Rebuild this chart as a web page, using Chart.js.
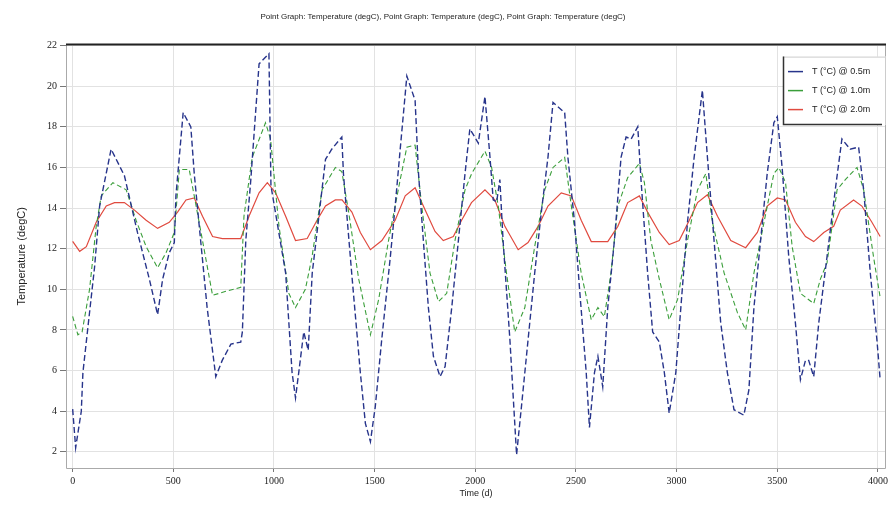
<!DOCTYPE html>
<html><head><meta charset="utf-8">
<script src="https://cdn.jsdelivr.net/npm/chart.js@4.4.1/dist/chart.umd.min.js"></script>
<style>html,body{margin:0;padding:0;background:#fff;}canvas{display:block}</style>
</head><body>
<canvas id="c" width="896" height="507"></canvas>
<script>
const titleText = "Point Graph: Temperature (degC), Point Graph: Temperature (degC), Point Graph: Temperature (degC)";
const xTitle = "Time (d)";
const yTitle = "Temperature (degC)";
const seriesLabels = ["T (°C) @ 0.5m", "T (°C) @ 1.0m", "T (°C) @ 2.0m"];
const xTicks = [0, 500, 1000, 1500, 2000, 2500, 3000, 3500, 4000];
const yTicks = [2, 4, 6, 8, 10, 12, 14, 16, 18, 20, 22];

const time05 = [0,15,43,51,109,134,191,257,322,381,422,447,480,505,513,549,587,604,629,668,711,743,786,835,843,860,885,926,975,985,1058,1090,1107,1123,1148,1170,1190,1208,1256,1287,1337,1345,1386,1429,1454,1479,1503,1535,1578,1602,1627,1660,1701,1718,1742,1767,1792,1825,1850,1883,1916,1949,1973,2015,2048,2073,2089,2106,2122,2138,2172,2196,2205,2229,2262,2295,2328,2361,2386,2444,2460,2493,2518,2551,2567,2592,2609,2633,2658,2691,2724,2749,2774,2807,2823,2856,2881,2914,2939,2963,2996,3021,3054,3087,3128,3153,3186,3219,3252,3285,3334,3359,3384,3417,3450,3483,3500,3524,3557,3590,3615,3640,3656,3681,3706,3747,3788,3821,3862,3904,3929,3962,3995,4011];
const temp05 = [4.1,2.2,4.0,5.9,11.1,14.1,16.9,15.6,12.8,10.5,8.75,10.5,11.8,12.3,14.6,18.7,18.0,15.7,13.1,9.1,5.7,6.5,7.3,7.4,7.9,12.4,15.4,21.1,21.6,15.1,10.8,5.9,4.65,5.9,7.9,7.0,10.8,12.3,16.4,16.9,17.5,15.7,10.8,5.9,3.4,2.5,4.2,7.5,11.6,14.1,16.9,20.5,19.3,15.7,12.4,9.1,6.7,5.7,6.2,9.1,12.4,15.7,17.9,17.2,19.5,16.5,14.4,14.3,15.4,12.4,7.5,3.4,1.85,4.2,7.5,10.8,13.8,16.5,19.2,18.7,16.5,13.3,10.0,5.9,3.2,5.9,6.7,5.2,9.1,12.4,16.5,17.5,17.4,18.0,15.4,10.8,7.9,7.4,5.9,3.9,5.9,9.1,13.3,16.5,19.8,16.5,12.4,8.35,5.9,4.07,3.8,5.05,9.1,12.4,15.7,18.2,18.5,16.0,11.6,8.35,5.55,6.5,6.5,5.7,8.35,11.6,14.9,17.4,16.9,17.0,14.9,10.8,7.5,5.55];

const time10 = [0,26,47,84,117,142,200,266,315,365,422,464,505,530,579,604,645,695,761,835,851,892,958,983,1025,1074,1107,1156,1189,1239,1305,1337,1371,1421,1479,1520,1569,1627,1660,1701,1734,1775,1817,1858,1899,1949,1982,2048,2081,2114,2155,2196,2246,2295,2345,2386,2444,2477,2526,2576,2609,2641,2674,2708,2757,2815,2840,2872,2914,2963,3005,3054,3104,3145,3178,3236,3302,3343,3384,3434,3483,3508,3541,3574,3615,3681,3714,3747,3797,3838,3896,3929,3978,4011];
const temp10 = [8.67,7.76,7.9,10.0,13.1,14.6,15.25,14.9,13.4,12.1,11.06,11.8,12.8,15.9,15.9,14.6,12.4,9.7,9.9,10.1,13.6,16.5,18.2,17.4,13.1,9.8,9.1,10.0,11.6,14.9,16.0,15.8,13.8,10.5,7.76,9.5,12.4,15.4,17.0,17.1,14.1,10.8,9.4,9.8,12.4,14.9,15.7,16.8,16.0,14.1,10.8,7.9,9.1,12.1,14.9,16.0,16.5,14.1,10.8,8.5,9.1,8.65,10.8,14.1,15.5,16.2,15.25,12.4,10.5,8.5,9.5,12.4,14.9,15.7,13.3,10.8,8.85,8.0,10.8,13.3,15.7,16.0,15.25,12.1,9.8,9.3,10.5,11.3,14.9,15.4,16.0,14.9,11.6,9.6];

const time20 = [0,35,68,117,167,208,257,307,365,422,480,521,563,604,645,695,744,835,876,926,967,1008,1058,1107,1165,1214,1256,1305,1338,1387,1429,1479,1536,1602,1652,1701,1751,1800,1841,1891,1932,1981,2048,2097,2147,2213,2262,2312,2361,2427,2477,2526,2576,2658,2708,2757,2815,2856,2914,2963,3013,3063,3104,3153,3203,3269,3343,3401,3450,3500,3541,3590,3640,3681,3731,3780,3813,3879,3920,3970,4011];
const temp20 = [12.36,11.87,12.1,13.3,14.1,14.27,14.27,13.9,13.4,13.0,13.3,13.8,14.4,14.5,13.6,12.6,12.5,12.5,13.6,14.75,15.25,14.75,13.6,12.4,12.5,13.4,14.1,14.4,14.4,13.8,12.8,11.95,12.4,13.4,14.6,15.0,13.9,12.85,12.4,12.6,13.4,14.27,14.9,14.4,13.1,11.95,12.3,13.1,14.1,14.75,14.6,13.4,12.35,12.35,13.1,14.27,14.6,13.8,12.8,12.2,12.4,13.4,14.27,14.66,13.6,12.4,12.05,12.8,14.1,14.5,14.4,13.3,12.6,12.35,12.8,13.1,13.9,14.4,14.1,13.3,12.6];

const colors = ["#27348b", "#3a9e3a", "#e04a3f"];
function pts(t, v) { return t.map((x, i) => ({x: x, y: v[i]})); }

const framePlugin = {
  id: 'frame',
  afterDatasetsDraw(chart) {
    const a = chart.chartArea, ctx = chart.ctx;
    ctx.save();
    ctx.strokeStyle = '#aaaaaa'; ctx.lineWidth = 1;
    ctx.beginPath();
    ctx.moveTo(a.left + 0.5, a.top); ctx.lineTo(a.left + 0.5, a.bottom + 0.5);
    ctx.lineTo(a.right - 0.5, a.bottom + 0.5); ctx.lineTo(a.right - 0.5, a.top);
    ctx.stroke();
    ctx.strokeStyle = '#222222'; ctx.lineWidth = 2;
    ctx.beginPath(); ctx.moveTo(a.left, a.top); ctx.lineTo(a.right, a.top); ctx.stroke();
    const bx = a.right - 103, by = a.top + 12, bw = 103, bh = 68;
    ctx.fillStyle = '#ffffff'; ctx.fillRect(bx, by, bw, bh);
    ctx.strokeStyle = '#cccccc'; ctx.lineWidth = 1;
    ctx.beginPath(); ctx.moveTo(bx, by + 0.5); ctx.lineTo(bx + bw - 0.5, by + 0.5); ctx.lineTo(bx + bw - 0.5, by + bh); ctx.stroke();
    ctx.strokeStyle = '#333333'; ctx.lineWidth = 1.5;
    ctx.beginPath(); ctx.moveTo(bx + 0.5, by); ctx.lineTo(bx + 0.5, by + bh); ctx.lineTo(bx + bw - 4, by + bh); ctx.stroke();
    ctx.font = '9px "Liberation Sans", Arial, sans-serif';
    ctx.textBaseline = 'middle'; ctx.textAlign = 'left';
    chart.data.datasets.forEach((ds, i) => {
      const y = by + 15 + i * 19;
      ctx.strokeStyle = ds.borderColor; ctx.lineWidth = 1.5; ctx.setLineDash([]);
      ctx.beginPath(); ctx.moveTo(bx + 5, y); ctx.lineTo(bx + 20, y); ctx.stroke();
      ctx.fillStyle = '#222222';
      ctx.fillText(ds.label, bx + 29, y);
    });
    ctx.restore();
  }
};

new Chart(document.getElementById('c'), {
  type: 'line',
  data: {
    datasets: [
      {label: seriesLabels[0], data: pts(time05, temp05), borderColor: colors[0], borderWidth: 1.4, borderDash: [6, 3], pointRadius: 0, tension: 0, fill: false},
      {label: seriesLabels[1], data: pts(time10, temp10), borderColor: colors[1], borderWidth: 1.1, borderDash: [5, 3], pointRadius: 0, tension: 0, fill: false},
      {label: seriesLabels[2], data: pts(time20, temp20), borderColor: colors[2], borderWidth: 1.2, pointRadius: 0, tension: 0, fill: false}
    ]
  },
  options: {
    responsive: false, animation: false, devicePixelRatio: 1,
    layout: {padding: {left: 0, right: 10, top: 0, bottom: 0}},
    plugins: {
      legend: {display: false},
      tooltip: {enabled: false},
      title: {display: true, text: titleText, color: '#222', font: {size: 8, family: '"Liberation Sans", Arial, sans-serif', weight: 'normal'}, padding: {top: 12, bottom: 23}}
    },
    scales: {
      x: {
        type: 'linear', min: -33, max: 4040,
        afterBuildTicks: s => { s.ticks = xTicks.map(v => ({value: v})); },
        afterFit: s => { s.height = 39; },
        grid: {color: '#e2e2e2', tickLength: 4, tickColor: '#777'},
        border: {display: false},
        ticks: {color: '#222', padding: 3, maxRotation: 0, callback: v => String(v), font: {size: 10, family: '"Liberation Serif", serif'}},
        title: {display: true, text: xTitle, color: '#222', font: {size: 9, family: '"Liberation Sans", Arial, sans-serif'}, padding: {top: 0, bottom: 8}}
      },
      y: {
        type: 'linear', min: 1.2, max: 22.05,
        afterBuildTicks: s => { s.ticks = yTicks.map(v => ({value: v})); },
        afterFit: s => { s.width = 66; },
        grid: {color: '#e2e2e2', tickLength: 6, tickColor: '#777'},
        border: {display: false},
        ticks: {color: '#222', padding: 3, callback: v => String(v), font: {size: 10, family: '"Liberation Serif", serif'}},
        title: {display: true, text: yTitle, color: '#222', font: {size: 11, family: '"Liberation Sans", Arial, sans-serif'}, padding: {top: 15, bottom: 0}}
      }
    }
  },
  plugins: [framePlugin]
});
</script>
</body></html>
